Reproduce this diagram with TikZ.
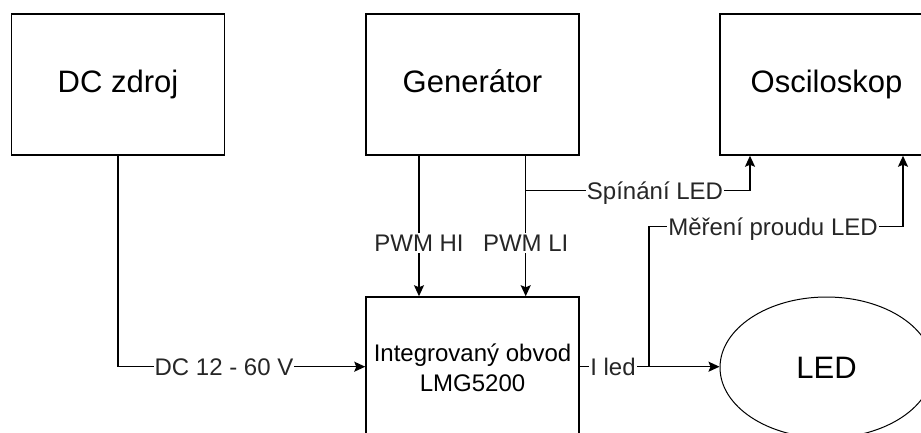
\documentclass[tikz,border=0pt]{standalone}
\usepackage{fontspec}
\setmainfont{Liberation Sans}
\usetikzlibrary{arrows.meta,shapes.geometric}
\begin{document}
\begin{tikzpicture}[x=1pt,y=-1pt,
  blk/.style={draw=black, line width=1.5pt, minimum width=213pt, minimum height=141pt, inner sep=0pt, font=\fontsize{31}{36}\selectfont},
  ttl/.style={text height=22.3pt, text depth=6.5pt},
  led/.style={draw=black, line width=1pt, ellipse, minimum width=213pt, minimum height=141pt, inner sep=0pt, font=\fontsize{31}{36}\selectfont},
  wire/.style={line width=1.5pt, -{Stealth[length=11pt,width=10pt,inset=2pt]}},
  lbl/.style={fill=white, inner sep=1pt, font=\fontsize{24}{29}\selectfont, text=black!85, text height=17.3pt, text depth=0pt}
]
\useasboundingbox (0,0) rectangle (921,433);
\node[blk, ttl] (dc) at (118,84.5) {DC zdroj};
\node[blk, ttl] (gen) at (472.5,84.5) {Generátor};
\node[blk, ttl] (osc) at (826.5,84.5) {Osciloskop};
\node[blk, align=center, font=\fontsize{24}{30}\selectfont] (ic) at (472.5,367.5) {Integrovaný obvod\\LMG5200};
\node[led, text height=22.3pt, text depth=0pt] (led) at (826.5,367.5) {LED};

\coordinate (dcc) at (118,366.7);
\coordinate (hi) at (419,155);
\coordinate (li) at (525.7,155);
\coordinate (sp) at (525.7,190.7);
\coordinate (spc) at (750,190.7);
\coordinate (j) at (649,366.7);
\coordinate (mc1) at (649,226.7);
\coordinate (mc2) at (903,226.7);

\draw[wire] (dc.south) -- (dcc) -- (ic.west |- dcc);
\node[lbl] (l1) at (224,366.7) {DC 12 - 60 V};

\draw[wire] (hi) -- (hi |- ic.north);
\node[lbl] (l2) at (419,243) {PWM HI};
\draw[wire] (li) -- (li |- ic.north);
\node[lbl] (l3) at (525.7,243) {PWM LI};

\draw[wire] (sp) -- (spc) -- (spc |- osc.south);
\node[lbl] (l4) at (655,190.7) {Spínání LED};

\draw[wire] (ic.east |- j) -- (led.west |- j);
\node[lbl] (l5) at (613,366.7) {I led};

\draw[wire] (j) -- (mc1) -- (mc2) -- (mc2 |- osc.south);
\node[lbl] (l6) at (773,226.7) {Měření proudu LED};
\end{tikzpicture}
\end{document}
